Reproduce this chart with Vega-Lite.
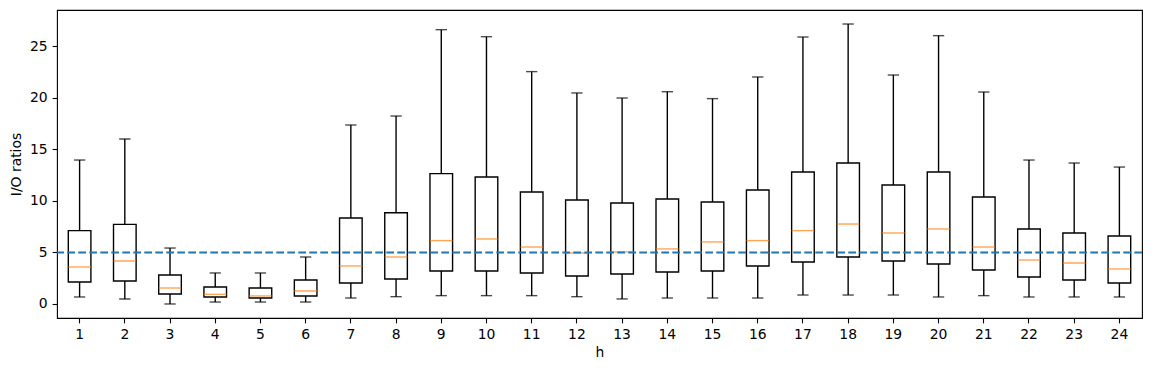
{
  "$schema": "https://vega.github.io/schema/vega-lite/v6.json",
  "autosize": {"type": "none"},
  "padding": {"left": 57, "top": 10, "right": 12, "bottom": 50},
  "width": 1085,
  "height": 308,
  "background": "white",
  "config": {
    "view": {"stroke": "black", "strokeWidth": 1.1},
    "font": "DejaVu Sans",
    "axis": {
      "labelFont": "DejaVu Sans", "labelFontSize": 13.9, "labelColor": "black",
      "titleFont": "DejaVu Sans", "titleFontSize": 13.9, "titleFontWeight": "normal", "titleColor": "black",
      "tickColor": "black", "tickWidth": 1.1, "tickSize": 4.9, "labelPadding": 4.9,
      "domain": false, "grid": false
    }
  },
  "data": {"values": [
    {"h": 1, "lo": 0.68, "q1": 2.13, "med": 3.59, "q3": 7.12, "hi": 13.97},
    {"h": 2, "lo": 0.49, "q1": 2.23, "med": 4.17, "q3": 7.73, "hi": 16.01},
    {"h": 3, "lo": 0.0, "q1": 0.97, "med": 1.55, "q3": 2.81, "hi": 5.43},
    {"h": 4, "lo": 0.19, "q1": 0.68, "med": 0.94, "q3": 1.65, "hi": 3.01},
    {"h": 5, "lo": 0.19, "q1": 0.58, "med": 0.78, "q3": 1.55, "hi": 3.01},
    {"h": 6, "lo": 0.19, "q1": 0.78, "med": 1.26, "q3": 2.33, "hi": 4.56},
    {"h": 7, "lo": 0.58, "q1": 2.04, "med": 3.69, "q3": 8.35, "hi": 17.37},
    {"h": 8, "lo": 0.71, "q1": 2.43, "med": 4.56, "q3": 8.86, "hi": 18.24},
    {"h": 9, "lo": 0.81, "q1": 3.2, "med": 6.15, "q3": 12.65, "hi": 26.62},
    {"h": 10, "lo": 0.81, "q1": 3.2, "med": 6.31, "q3": 12.32, "hi": 25.94},
    {"h": 11, "lo": 0.81, "q1": 3.01, "med": 5.53, "q3": 10.87, "hi": 22.55},
    {"h": 12, "lo": 0.71, "q1": 2.72, "med": 4.95, "q3": 10.09, "hi": 20.48},
    {"h": 13, "lo": 0.49, "q1": 2.91, "med": 5.05, "q3": 9.8, "hi": 19.99},
    {"h": 14, "lo": 0.58, "q1": 3.11, "med": 5.34, "q3": 10.19, "hi": 20.6},
    {"h": 15, "lo": 0.58, "q1": 3.2, "med": 6.02, "q3": 9.9, "hi": 19.93},
    {"h": 16, "lo": 0.58, "q1": 3.69, "med": 6.15, "q3": 11.06, "hi": 22.03},
    {"h": 17, "lo": 0.87, "q1": 4.08, "med": 7.12, "q3": 12.81, "hi": 25.91},
    {"h": 18, "lo": 0.87, "q1": 4.56, "med": 7.76, "q3": 13.68, "hi": 27.17},
    {"h": 19, "lo": 0.87, "q1": 4.17, "med": 6.89, "q3": 11.55, "hi": 22.22},
    {"h": 20, "lo": 0.68, "q1": 3.88, "med": 7.28, "q3": 12.81, "hi": 26.04},
    {"h": 21, "lo": 0.81, "q1": 3.3, "med": 5.53, "q3": 10.38, "hi": 20.57},
    {"h": 22, "lo": 0.68, "q1": 2.62, "med": 4.27, "q3": 7.28, "hi": 13.97},
    {"h": 23, "lo": 0.68, "q1": 2.33, "med": 3.98, "q3": 6.89, "hi": 13.68},
    {"h": 24, "lo": 0.68, "q1": 2.04, "med": 3.4, "q3": 6.6, "hi": 13.29}
  ]},
  "encoding": {
    "x": {
      "field": "h", "type": "ordinal",
      "scale": {"paddingInner": 0.5, "paddingOuter": 0.25},
      "axis": {"title": "h", "labelAngle": 0, "titlePadding": 4}
    }
  },
  "layer": [
    {
      "mark": {"type": "rule", "color": "black", "strokeWidth": 1.39},
      "encoding": {
        "y": {"field": "lo", "type": "quantitative",
          "scale": {"domain": [-1.36, 28.53], "nice": false, "zero": false},
          "axis": {"title": "I/O ratios", "values": [0, 5, 10, 15, 20, 25], "titlePadding": 6}},
        "y2": {"field": "hi"}
      }
    },
    {
      "mark": {"type": "tick", "color": "black", "size": 11.3, "thickness": 1.39},
      "encoding": {"y": {"field": "lo", "type": "quantitative"}}
    },
    {
      "mark": {"type": "tick", "color": "black", "size": 11.3, "thickness": 1.39},
      "encoding": {"y": {"field": "hi", "type": "quantitative"}}
    },
    {
      "mark": {"type": "bar", "fill": "white", "stroke": "black", "strokeWidth": 1.39},
      "encoding": {
        "y": {"field": "q1", "type": "quantitative"},
        "y2": {"field": "q3"}
      }
    },
    {
      "mark": {"type": "tick", "color": "#ff7f0e", "size": 22.6, "thickness": 1.39},
      "encoding": {"y": {"field": "med", "type": "quantitative"}}
    },
    {
      "data": {"values": [{"ref": 5}]},
      "mark": {"type": "rule", "color": "#1f77b4", "strokeWidth": 2.08, "strokeDash": [7.7, 3.3]},
      "encoding": {"x": null, "y": {"field": "ref", "type": "quantitative"}}
    }
  ]
}
